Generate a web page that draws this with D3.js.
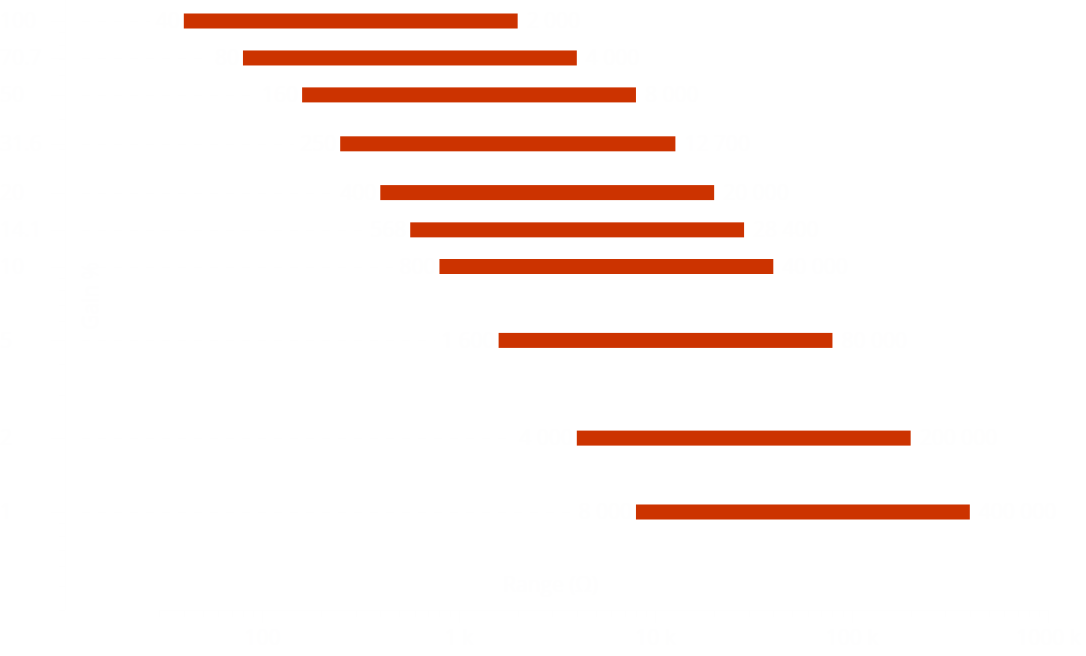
<!DOCTYPE html>
<html>
<head>
<meta charset="utf-8">
<script src="https://cdn.jsdelivr.net/npm/d3@7"></script>
<style>
  html, body { margin: 0; padding: 0; background: #fff; }
  svg text { font-family: "Open Sans", sans-serif; }
</style>
</head>
<body>
<div id="chart"></div>
<script>
// chart data
const levels = [100, 70.7, 50, 31.6, 20, 14.1, 10, 5, 2, 1];
const rangeLow = [40, 80, 160, 250, 400, 568, 800, 1600, 4000, 8000];
const rangeHigh = [2000, 4000, 8000, 12700, 20000, 28400, 40000, 80000, 200000, 400000];
const xTickValues = [100, 1000, 10000, 100000, 1000000];
const xTickLabels = ["100", "1 k", "10 k", "100 k", "1000 k"];
const yTickValues = [100, 70.7, 50, 31.6, 20, 14.1, 10, 5, 2, 1];

const width = 1086;
const height = 656;
// near-white text and lines, as in the original (drawn for a dark page)
const faintText = "#fefefe";
const faintLine = "#fefefe";

const loc = d3.formatLocale({ decimal: ".", thousands: " ", grouping: [3], currency: ["", ""] });
const fmt = loc.format(",");

const svg = d3.select("#chart")
    .append("svg")
    .attr("width", width)
    .attr("height", height);

// log scales on both axes
const x = d3.scaleLog().domain([100, 1000000]).range([262, 1048]);
const y = d3.scaleLog().domain([1, 100]).range([512, 21]);

const axisY = 610;
const axisX = 65;

// x axis, ticks hanging below
const xMinor = [];
for (let e = 1; e <= 5; e++) {
    for (let m = 2; m <= 9; m++) xMinor.push(m * Math.pow(10, e));
}
const xMinorOk = xMinor.filter(v => v >= 30 && v < 1000000);

svg.append("g")
    .attr("transform", `translate(0,${axisY})`)
    .call(d3.axisBottom(x).tickValues(xMinorOk).tickSize(7).tickFormat(""))
    .call(g => g.select(".domain").remove())
    .call(g => g.selectAll("line").attr("stroke", faintLine));

svg.append("g")
    .attr("transform", `translate(0,${axisY})`)
    .call(d3.axisBottom(x).tickValues(xTickValues).tickSize(13)
        .tickFormat((d, i) => xTickLabels[i]))
    .call(g => g.select(".domain").attr("stroke", faintLine).attr("d", `M${x(30)},0.5H${x(1000000)}`))
    .call(g => g.selectAll("line").attr("stroke", faintLine))
    .call(g => g.selectAll("text")
        .attr("fill", faintText)
        .attr("font-size", 21)
        .attr("dy", "0.9em"));

svg.append("text")
    .attr("x", 503)
    .attr("y", 592)
    .attr("fill", faintText)
    .attr("font-size", 21)
    .text("Range (Ω)");

// y axis, ticks to the left
const yMinor = [];
for (let e = -1; e <= 1; e++) {
    for (let m = 1; m <= 9; m++) yMinor.push(m * Math.pow(10, e));
}
const yMinorOk = yMinor.filter(v => v >= 0.4 && v <= 100);

svg.append("g")
    .attr("transform", `translate(${axisX},0)`)
    .call(d3.axisLeft(y).tickValues(yMinorOk).tickSize(6).tickFormat(""))
    .call(g => g.select(".domain").attr("stroke", faintLine).attr("d", `M0.5,0V${axisY}`))
    .call(g => g.selectAll("line").attr("stroke", faintLine));

svg.append("g")
    .attr("transform", `translate(${axisX},0)`)
    .call(d3.axisLeft(y).tickValues(yTickValues).tickSize(14).tickFormat(d3.format("")))
    .call(g => g.select(".domain").remove())
    .call(g => g.selectAll("line").attr("stroke", faintLine))
    .call(g => g.selectAll("text")
        .attr("fill", faintText)
        .attr("font-size", 21)
        .attr("text-anchor", "start")
        .attr("x", -axisX));

svg.append("text")
    .attr("transform", "translate(98,330) rotate(-90)")
    .attr("fill", faintText)
    .attr("font-size", 21)
    .text("Gain %");

// rows
const rows = levels.map((lv, i) => ({ level: lv, lo: rangeLow[i], hi: rangeHigh[i] }));
const barH = 15;

const row = svg.selectAll("g.row")
    .data(rows)
    .join("g")
    .attr("class", "row");

row.append("text")
    .attr("x", d => x(d.lo) - 4)
    .attr("y", d => y(d.level))
    .attr("dy", "0.35em")
    .attr("text-anchor", "end")
    .attr("fill", faintText)
    .attr("font-size", 21)
    .text(d => fmt(d.lo));

// dashed leaders from the axis to the start label
row.insert("line", "text")
    .attr("x1", 82)
    .attr("x2", function(d) {
        const t = d3.select(this.parentNode).select("text").node();
        return x(d.lo) - 10 - t.getComputedTextLength();
    })
    .attr("y1", d => y(d.level) + 0.5)
    .attr("y2", d => y(d.level) + 0.5)
    .attr("stroke", faintLine)
    .attr("stroke-dasharray", "8,8");

row.append("rect")
    .attr("x", d => x(d.lo))
    .attr("y", d => y(d.level) - barH / 2)
    .attr("width", d => x(d.hi) - x(d.lo))
    .attr("height", barH)
    .attr("fill", "#cc3300");

row.append("text")
    .attr("x", d => x(d.hi) + 9)
    .attr("y", d => y(d.level))
    .attr("dy", "0.35em")
    .attr("fill", faintText)
    .attr("font-size", 21)
    .text(d => fmt(d.hi));
</script>
</body>
</html>
